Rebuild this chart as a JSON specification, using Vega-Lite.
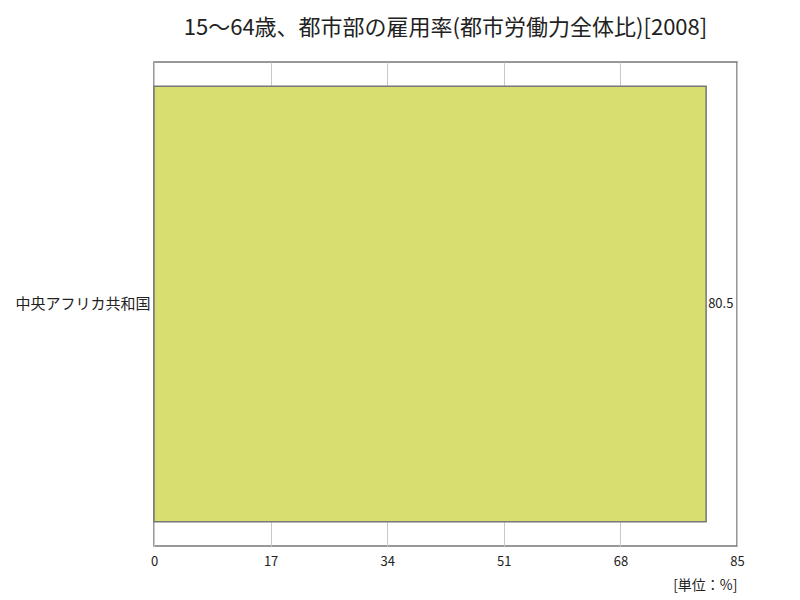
{
  "$schema": "https://vega.github.io/schema/vega-lite/v6.json",
  "width": 583,
  "height": 484,
  "autosize": {"type": "none"},
  "padding": {"left": 154, "top": 62, "right": 63, "bottom": 54},
  "background": "white",
  "title": {
    "text": "15～64歳、都市部の雇用率(都市労働力全体比)[2008]",
    "font": "Noto Sans CJK JP",
    "fontSize": 22,
    "fontWeight": "normal",
    "color": "#222222",
    "anchor": "middle",
    "offset": 22
  },
  "config": {
    "view": {"stroke": "#777777", "strokeWidth": 1.5},
    "font": "Noto Sans CJK JP"
  },
  "data": {
    "values": [
      {"country": "中央アフリカ共和国", "rate": 80.5}
    ]
  },
  "encoding": {
    "y": {
      "field": "country",
      "type": "nominal",
      "scale": {"paddingInner": 0.1, "paddingOuter": 0.05},
      "axis": {
        "title": null,
        "ticks": false,
        "domain": false,
        "labelFontSize": 15,
        "labelColor": "#222222",
        "labelPadding": 4
      }
    },
    "x": {
      "field": "rate",
      "type": "quantitative",
      "scale": {"domain": [0, 85], "nice": false},
      "axis": {
        "values": [0, 17, 34, 51, 68, 85],
        "title": "[単位：%]",
        "titleAnchor": "end",
        "titleAlign": "right",
        "titleFontSize": 14,
        "titleFontWeight": "normal",
        "titleColor": "#222222",
        "titlePadding": 10,
        "ticks": false,
        "domain": false,
        "labelFlush": false,
        "labelFontSize": 13,
        "labelColor": "#222222",
        "labelPadding": 9,
        "grid": true,
        "gridColor": "#c8c8c8",
        "gridWidth": 1
      }
    }
  },
  "layer": [
    {
      "mark": {"type": "bar", "color": "#d8de6f", "stroke": "#777777", "strokeWidth": 1.5}
    },
    {
      "mark": {"type": "text", "align": "left", "baseline": "middle", "dx": 2, "fontSize": 13, "color": "#222222"},
      "encoding": {
        "text": {"field": "rate", "type": "quantitative", "format": ".1f"}
      }
    }
  ]
}
